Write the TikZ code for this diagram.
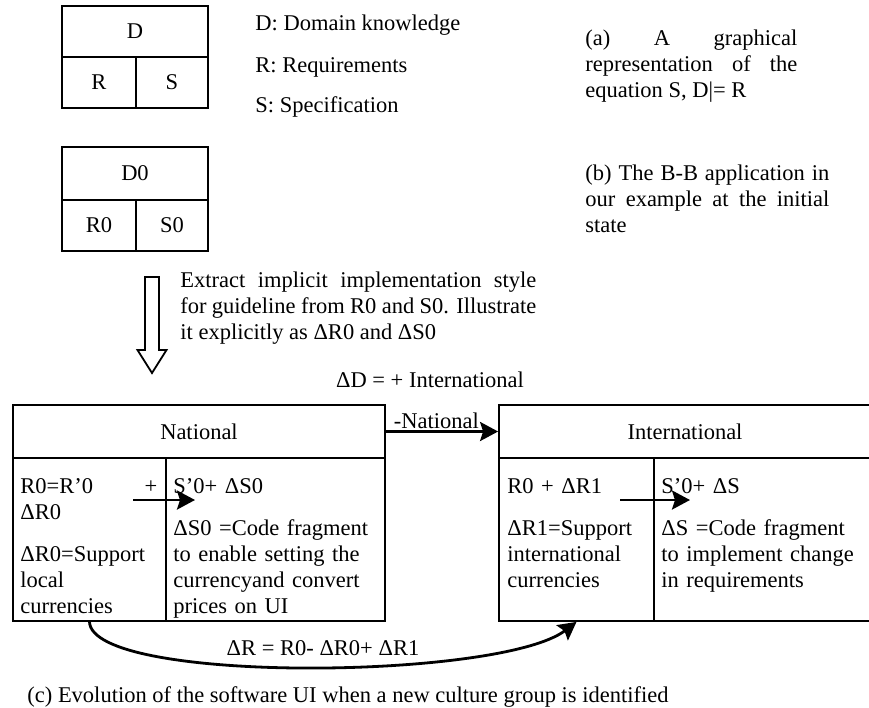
\documentclass[tikz,border=0pt]{standalone}
\usepackage{fontspec}
\setmainfont{Liberation Serif}
\usepackage{tikz}
\usetikzlibrary{arrows.meta}

\begin{document}
\begin{tikzpicture}[x=0.5pt, y=-0.5pt,
    font=\fontsize{11.25}{13}\selectfont,
    cell/.style={draw, line width=0.9pt, inner sep=0pt},
    celltext/.style={anchor=base west, inner sep=0pt, align=left},
    parbox/.style={anchor=base west, inner sep=0pt, align=justify},
    fatarrow/.style={line width=1.4pt, -{Stealth[length=9pt, width=9.5pt, inset=1.5pt]}}]
    \useasboundingbox (0, 0) rectangle (869, 708);

    % (a) D, R, S
    \node[cell, minimum width=73pt, minimum height=25.5pt] (D) at (135, 31.5) {D};
    \node[cell, minimum width=37pt, minimum height=25.5pt] (R) at (99, 82.5) {R};
    \node[cell, minimum width=36pt, minimum height=25.5pt] (S) at (172, 82.5) {S};
    \node[celltext] (legD) at (255, 30) {D: Domain knowledge};
    \node[celltext] (legR) at (255, 72) {R: Requirements};
    \node[celltext] (legS) at (255, 112) {S: Specification};
    \node[parbox, text width=106pt] (capA) at (585, 45)
        {(a) A graphical\linebreak representation of the\linebreak equation S, D|= R};

    % (b) initial state
    \node[cell, minimum width=73pt, minimum height=26.5pt] (D0) at (135, 173.5) {D0};
    \node[cell, minimum width=37pt, minimum height=25.5pt] (R0) at (99, 225.5) {R0};
    \node[cell, minimum width=36pt, minimum height=25.5pt] (S0) at (172, 225.5) {S0};
    \node[parbox, text width=122pt] (capB) at (585, 180)
        {(b) The B-B application in\linebreak our example at the initial\linebreak state};

    % hollow arrow
    \draw[line width=0.9pt] (145, 277) -- (159, 277) -- (159, 350) -- (166.5, 350)
        -- (152, 373) -- (137.5, 350) -- (145, 350) -- cycle;
    \node[parbox, text width=178pt] (extract) at (180, 287)
        {Extract implicit implementation style\linebreak for guideline from R0 and S0. Illustrate\linebreak it explicitly as ΔR0 and ΔS0};

    % (c) evolution
    \node[anchor=base, inner sep=0pt] (dD) at (430, 387) {ΔD = + International};

    \node[cell, minimum width=186pt, minimum height=26.5pt] (nat) at (199, 431.5) {National};
    \node[cell, minimum width=76.5pt, minimum height=81.5pt] (natR) at (89.5, 539.5) {};
    \node[cell, minimum width=109.5pt, minimum height=81.5pt] (natS) at (275.5, 539.5) {};
    \node[celltext, text width=68.5pt] (natRtext) at (20, 493)
        {R0=R’0 \hfill +\\ ΔR0\\[8pt] ΔR0=Support\\ local\\ currencies};
    \node[celltext, text width=104pt] (natStext) at (173, 493)
        {S’0+ ΔS0\\[8pt] ΔS0 =Code fragment\\ to enable setting the\\ currencyand convert\\ prices on UI};

    \node[cell, minimum width=186pt, minimum height=26.5pt] (int) at (685, 431.5) {International};
    \node[cell, minimum width=77.5pt, minimum height=81.5pt] (intR) at (576.5, 539.5) {};
    \node[cell, minimum width=108.5pt, minimum height=81.5pt] (intS) at (762.5, 539.5) {};
    \node[celltext, text width=72pt] (intRtext) at (507, 493)
        {R0 + ΔR1\\[8pt] ΔR1=Support\\ international\\ currencies};
    \node[celltext, text width=100pt] (intStext) at (661, 493)
        {S’0+ ΔS\\[8pt] ΔS =Code fragment\\ to implement change\\ in requirements};

    \coordinate (natA) at (133, 500);
    \coordinate (natB) at (195, 500);
    \coordinate (intA) at (620, 500);
    \coordinate (intB) at (690, 500);

    \draw[fatarrow] (nat) -- node[pos=0.45, above, inner sep=0.5pt] {-National} (int);
    \draw[fatarrow] (natA) -- (natB);
    \draw[fatarrow] (intA) -- (intB);
    \draw[fatarrow] (natR.south) .. controls (92, 684) and (500, 680) .. (intR.south);
    \node[anchor=base, inner sep=0pt] (dR) at (323, 655) {ΔR = R0- ΔR0+ ΔR1};

    \node[anchor=base west, inner sep=0pt] (capC) at (27, 702)
        {(c) Evolution of the software UI when a new culture group is identified};
\end{tikzpicture}
\end{document}
